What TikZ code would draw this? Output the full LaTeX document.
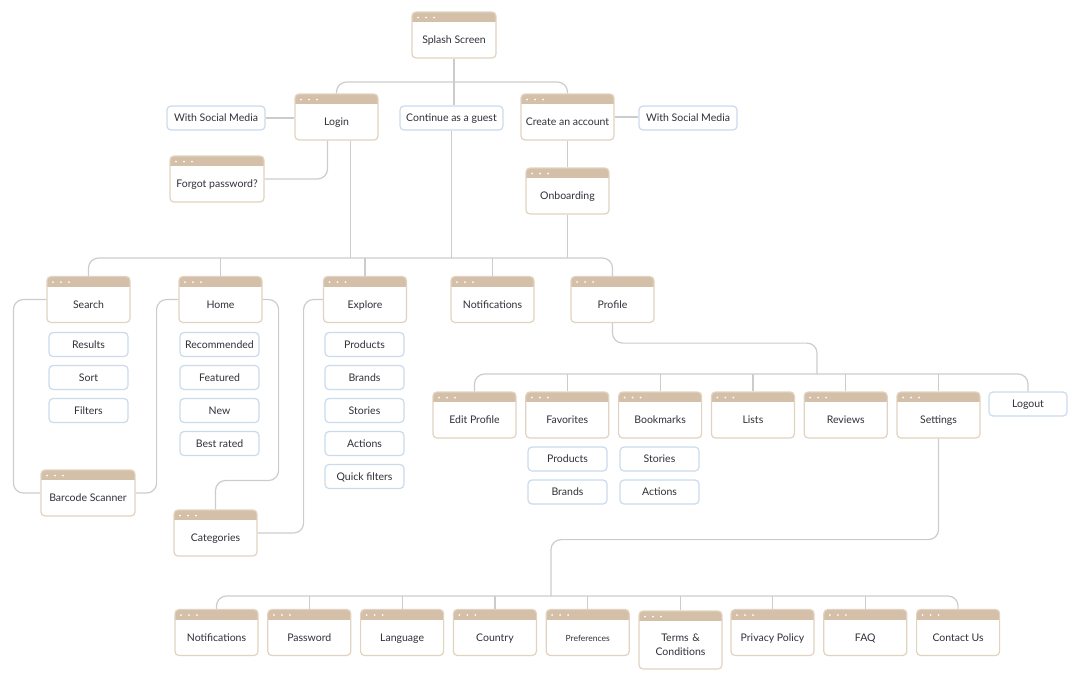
\documentclass[tikz,border=0pt]{standalone}
\usepackage{fontspec}
\setmainfont{Lato}
\usepackage{tikz}
\definecolor{MyTan}{RGB}{212,191,168}
\definecolor{MyEdge}{RGB}{226,210,192}
\definecolor{MyBlue}{RGB}{202,219,236}
\definecolor{MyLine}{RGB}{204,204,204}
\definecolor{MyText}{RGB}{48,48,58}

\begin{document}
\begin{tikzpicture}[x=1pt, y=-1pt, node distance=33pt, font=\fontsize{10.5}{12.5}\selectfont, text=MyText]
    \tikzstyle{win} = [draw=MyEdge, fill=white, line width=1.2pt, rounded corners=4pt, minimum width=83pt, inner ysep=0pt, text height=31.6pt, text depth=14.4pt,
        path picture={
            \fill[MyTan, sharp corners] (path picture bounding box.north west) rectangle ([yshift=-10pt]path picture bounding box.north east);
            \foreach \dx in {6,14,22}
                \fill[white] ([xshift=\dx pt, yshift=-5.5pt]path picture bounding box.north west) circle (1pt);
        }]
    \tikzstyle{wintall} = [win, text width=75pt, align=center, text height=30.6pt, text depth=27.4pt, font=\fontsize{10.5}{14}\selectfont]
    \tikzstyle{item} = [draw=MyBlue, fill=white, line width=1.2pt, rounded corners=4pt, minimum width=79pt, minimum height=24pt, inner ysep=0pt, text height=7pt, text depth=0pt]
    \tikzstyle{link} = [draw=MyLine, line width=1.2pt, rounded corners=10pt]

    \useasboundingbox (0,0) rectangle (1080,683);

    \node[win, minimum width=84pt] (spl) at (454,35) {Splash Screen};
    \node[win] (login) at (336.5,117) {Login};
    \node[item, minimum width=103pt] (guest) at (451.5,118) {Continue as a guest};
    \node[win, minimum width=93pt] (acc) at (567.5,117) {Create an account};
    \node[item, minimum width=98pt] (soc1) at (216,118) {With Social Media};
    \node[item, minimum width=98pt] (soc2) at (688,118) {With Social Media};
    \node[win, minimum width=94pt] (forgot) at (217,179) {Forgot password?};
    \node[win] (onb) at (567.5,191) {Onboarding};

    \node[win] (search) at (88.5,299.5) {Search};
    \node[win] (home) at (220.5,299.5) {Home};
    \node[win] (expl) at (365,299.5) {Explore};
    \node[win] (notif) at (492.5,299.5) {Notifications};
    \node[win] (prof) at (612.5,299.5) {Profile};

    \node[item] (res) at (88.5,344.5) {Results};
    \node[item] (sort) [below of=res] {Sort};
    \node[item] (filt) [below of=sort] {Filters};

    \node[item] (rec) at (219.5,344.5) {Recommended};
    \node[item] (feat) [below of=rec] {Featured};
    \node[item] (new) [below of=feat] {New};
    \node[item] (best) [below of=new] {Best rated};

    \node[item] (eprod) at (364.5,344.5) {Products};
    \node[item] (ebrand) [below of=eprod] {Brands};
    \node[item] (estory) [below of=ebrand] {Stories};
    \node[item] (eact) [below of=estory] {Actions};
    \node[item] (quick) [below of=eact] {Quick filters};

    \node[win, minimum width=94pt] (bc) at (88,493) {Barcode Scanner};
    \node[win] (cat) at (215.5,533) {Categories};

    \node[win] (edit) at (474.5,415) {Edit Profile};
    \node[win] (fav) [right of=edit, node distance=92.8pt] {Favorites};
    \node[win] (bkm) [right of=fav, node distance=92.8pt] {Bookmarks};
    \node[win] (lists) [right of=bkm, node distance=92.8pt] {Lists};
    \node[win] (rev) [right of=lists, node distance=92.8pt] {Reviews};
    \node[win] (set) [right of=rev, node distance=92.8pt] {Settings};
    \node[item, minimum width=78pt] (logout) at (1028,404) {Logout};

    \node[item] (fprod) at (567.5,459) {Products};
    \node[item] (fbrand) [below of=fprod] {Brands};
    \node[item] (bstory) at (659.5,459) {Stories};
    \node[item] (bact) [below of=bstory] {Actions};

    \node[win] (snot) at (216.5,632.5) {Notifications};
    \node[win] (pwd) [right of=snot, node distance=92.8pt] {Password};
    \node[win] (lang) [right of=pwd, node distance=92.8pt] {Language};
    \node[win] (ctry) [right of=lang, node distance=92.8pt] {Country};
    \node[win, font=\fontsize{8.5}{10}\selectfont] (pref) [right of=ctry, node distance=92.8pt] {Preferences};
    \node[wintall] (terms) at (680.5,640) {Terms \&\\Conditions};
    \node[win] (priv) at (772.5,632.5) {Privacy Policy};
    \node[win] (faq) [right of=priv, node distance=92.8pt] {FAQ};
    \node[win] (cont) [right of=faq, node distance=92.8pt] {Contact Us};

    \coordinate (tbar) at (454,82);
    \coordinate (mbar) at (350.5,258);
    \coordinate (rbar) at (817,374);
    \coordinate (sbar) at (551,596);

    \draw[link] (spl.south) -- (spl.south |- guest.north);
    \draw[link] (login.north) |- (tbar) -| (acc.north);
    \draw[link] (soc1.east) -- (soc1.east -| login.west);
    \draw[link] (acc.east) -- (acc.east -| soc2.west);
    \draw[link] ([xshift=-9pt]login.south) |- (forgot.east);
    \draw[link] (acc.south) -- (onb.north);

    \draw[link] ([xshift=14pt]login.south) -- (mbar);
    \draw[link] (guest.south) -- (guest.south |- mbar);
    \draw[link] (onb.south) -- (onb.south |- mbar);
    \draw[link] (search.north) |- (mbar) -| (prof.north);
    \draw[link] (home.north) -- (home.north |- mbar);
    \draw[link] (expl.north) -- (expl.north |- mbar);
    \draw[link] (notif.north) -- (notif.north |- mbar);

    \draw[link] (search.west) -- ++(-33,0) |- (bc.west);
    \draw[link] (bc.east) -- ++(21,0) |- (home.west);
    \draw[link] (home.east) -| ++(16,181) -| (cat.north);
    \draw[link] (cat.east) -- ++(46,0) |- (expl.west);

    \draw[link] (prof.south) -- ++(0,20) -| (rbar);
    \draw[link] (edit.north) |- (rbar) -| (logout.north);
    \draw[link] (fav.north) -- (fav.north |- rbar);
    \draw[link] (bkm.north) -- (bkm.north |- rbar);
    \draw[link] (lists.north) -- (lists.north |- rbar);
    \draw[link] (rev.north) -- (rev.north |- rbar);
    \draw[link] (set.north) -- (set.north |- rbar);

    \draw[link] (set.south) -- ++(0,101) -| (sbar);
    \draw[link] (snot.north) |- (sbar) -| (cont.north);
    \draw[link] (pwd.north) -- (pwd.north |- sbar);
    \draw[link] (lang.north) -- (lang.north |- sbar);
    \draw[link] (ctry.north) -- (ctry.north |- sbar);
    \draw[link] (pref.north) -- (pref.north |- sbar);
    \draw[link] (terms.north) -- (terms.north |- sbar);
    \draw[link] (priv.north) -- (priv.north |- sbar);
    \draw[link] (faq.north) -- (faq.north |- sbar);
\end{tikzpicture}
\end{document}
